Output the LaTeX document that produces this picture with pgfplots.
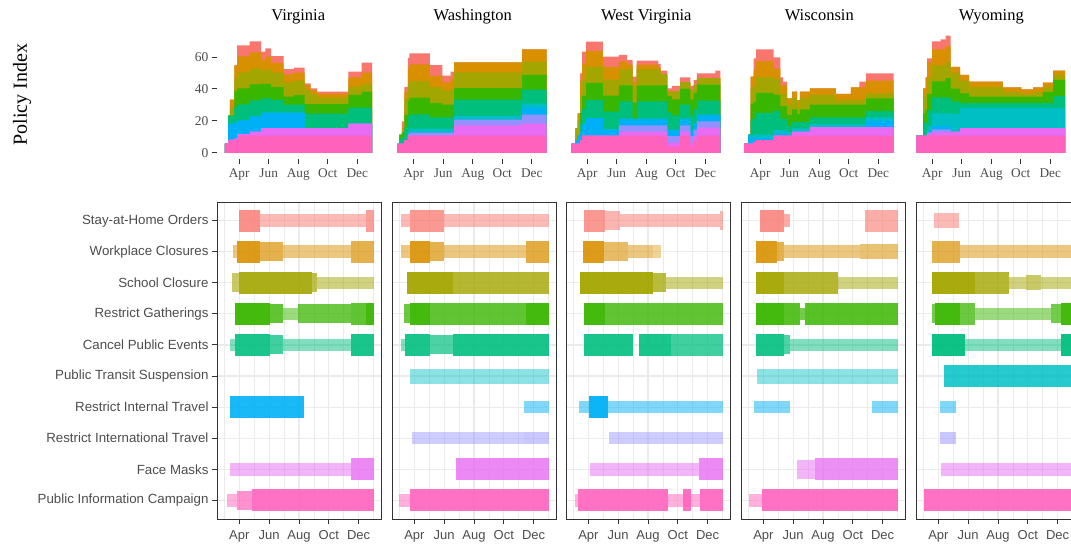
\documentclass[border=0pt]{standalone}
\usepackage{pgfplots}
\pgfplotsset{compat=1.18}
\usepackage{pgfplotstable}
\usepackage{fontspec}
\setmainfont{Liberation Serif}
\newfontfamily\sansf{Liberation Sans}
\definecolor{cSAH}{HTML}{F8766D}
\definecolor{cWC}{HTML}{D89000}
\definecolor{cSC}{HTML}{A3A500}
\definecolor{cRG}{HTML}{39B600}
\definecolor{cCPE}{HTML}{00BF7D}
\definecolor{cTR}{HTML}{00BFC4}
\definecolor{cIT}{HTML}{00B0F6}
\definecolor{cIN}{HTML}{9590FF}
\definecolor{cFM}{HTML}{E76BF3}
\definecolor{cPIC}{HTML}{FF62BC}
\definecolor{gthirty}{HTML}{4D4D4D}
\definecolor{gtwenty}{HTML}{333333}
\definecolor{ggrid}{HTML}{EBEBEB}

% policy index: contribution of each policy (layer), months: 3 = Apr 1
\pgfplotstableread{
t PIC FM IN IT TR CPE RG SC WC SAH
2.04 5.8 0 0 0 0 0 0 0 0 0
2.26 7.9 0 0 10.4 0 5 0 0 0 0
2.38 7.9 0.5 0 10 0 5 0 5 5 0
2.67 8 1 0 10 0 10 10 8 7.8 0
2.87 10.8 1 0 8.6 0 10 10 10 10 6.9
3.71 10.8 2.5 0 9.6 0 10 10 10 10 6.9
4.49 10.8 4.8 0 9.6 0 9 9 8 7 5.1
4.78 10.8 4.8 0 9.6 0 9 9 9 8 5.2
5.16 10.8 4.8 0 9.6 0 8 8 9 6 4.4
6.01 10.8 4.8 0 9.6 0 5 5 9 5 3.3
6.72 10.8 4.8 0 9.6 0 5 6 9 5 3.1
7.44 10.8 4.8 0 0 0 9 6 9 2.7 1.2
7.84 10.8 4.8 0 0 0 9 6 6 2.6 1.2
8.28 10.8 4.8 0 0 0 9 6 4 2.5 1.2
10.40 10.8 7.5 0 0 0 10 8 5 6 3.5
11.29 10.8 7.5 0 0 0 10 10 5 7 6.2
12.00 10.8 7.5 0 0 0 10 10 5 7 6.2
}\tabVA
\pgfplotstableread{
t PIC FM IN IT TR CPE RG SC WC SAH
1.92 5.8 0 0 0 0 0 0 0 0 0
2.03 5.8 0 0 0 0 3 2.7 0 0 0
2.21 5.8 0 0 0 0 4 3 0 3 4
2.37 8 0 0 0 0 8 8 10 4 3.3
2.60 10.8 0 1 0 2 9 10 10 10 6.6
2.71 10.8 0 1.9 0 2.5 9 10.4 10.4 10.4 6.9
4.10 10.8 0 1.9 0 2.5 7 9 10 7 6.8
4.95 10.8 0 1.9 0 2.5 7 8 9 5 4.1
5.51 10.8 0 1.9 0 2.5 7 8 9 7.5 4.1
5.74 10.8 6.5 3.5 0 2.5 10 7.3 9.8 6.3 0
10.34 10.8 7.5 5.7 4.3 2.5 8.8 9.2 8.2 7.8 0
12.00 10.8 7.5 5.7 4.3 2.5 8.8 9.2 8.2 7.8 0
}\tabWA
\pgfplotstableread{
t PIC FM IN IT TR CPE RG SC WC SAH
1.95 5.8 0 0 0 0 0 0 0 0 0
2.20 5.8 0 0 2 0 0 0 7.6 0 0
2.36 5.8 0 0 5 0 0 0 10 4 0
2.52 8 0 0 5 0 6 6 10 9.8 5
2.66 10.8 0 0 7 0 10 8 10 10 7.5
2.93 10.8 0 0 11 0 11.4 10.6 10 10 5.8
4.07 10.8 0 0 4 0 11 10 10 8 6.4
5.14 10.8 2.5 4 4 0 11 10 10 5 4
5.70 10.8 2.5 4 4 0 11 10 10 3 2.8
6.07 10.8 2.5 4 4 0 0 10 10 3 3.4
6.34 10.8 2.5 4 4 0 11 10 10 3 2.4
7.82 10.8 2.5 4 4 0 11 10 10 1 2.3
7.98 10.8 2.5 4 4 0 11 10 7 0 2.2
8.43 4 2.5 4 4 0 11 10 3 0 1.9
8.73 4 2.5 4 4 0 9 10 5 0 3.4
9.30 10.8 2.5 4 4 0 9 10 4 0 3
9.98 4 2.5 4 4 0 9 10 6 0 2.4
10.20 8 2.5 4 4 0 9 10 5 0 3.1
10.43 10.8 5 4 4 0 9 10 4 0 3
11.68 10.8 5 4 4 0 9 10 4 0 4.7
12.02 10.8 5 4 4 0 9 10 4 0 4.7
}\tabWV
\pgfplotstableread{
t PIC FM IN IT TR CPE RG SC WC SAH
1.91 5.8 0 0 0 0 0 0 0 0 0
2.20 5.8 0 0 5.7 0 0 0 0 0 0
2.36 5.8 0 0 3 2 10 10 10 6.9 0
2.55 7 0 0 3 2 10 10 10 10 7.2
2.73 8 0 0 1.5 2 13.5 12.5 10 10 7.3
3.91 10.8 0 0 1.5 2 12 10 10 6.5 7
4.37 10.8 0 0 1.5 2 7 8 8 5 5
4.55 10.8 0 0 1.5 2 7 8 8 5 2.3
4.82 10.8 0 0 0 2 4 7 7 3.4 0
5.16 10.8 2.5 0 0 2 4 8 7 4 0
5.50 10.8 2.5 0 0 2 4 5 5 3.8 0
5.68 10.8 2.5 0 0 2 4 8 7 4 0
6.37 10.8 5.4 0 0 2 4 8 6.2 4 0
8.12 10.8 5.4 0 0 2 4 8 3 3.7 0
9.14 10.8 5.4 0 0 2 4 8 3 7.8 0
9.71 10.8 5.4 0 0 2 4 8 3 8 3.4
10.17 10.8 5.4 0 4 2 4 8 3 8 4.6
12.03 10.8 5.4 0 4 2 4 8 3 8 4.6
}\tabWI
\pgfplotstableread{
t PIC FM IN IT TR CPE RG SC WC SAH
1.93 10.8 0 0 0 0 0 0 0 0 0
2.39 10.8 0 0 0 0 8 6 10 5.6 0
2.55 10.8 0 0 0 0 8 8.5 10 10 0
2.66 10.8 1 1 1 3 10 10 10 10 2.4
3.00 10.8 2 2 2 8 10 10 10 10 5
3.57 10.8 2 2 2 8 10 10 10 10 6.2
3.91 10.8 2 2 2 8 10 12 10 10 6.6
4.25 10.8 2.5 0 0 11 8 8 10 3.6 0
4.89 10.8 4.8 0 0 12.6 3 6 8 3.6 0
5.50 10.8 4.8 0 0 12.6 3 4 6 3.4 0
7.78 10.8 4.8 0 0 12.6 3 4 3 2.8 0
9.03 10.8 4.8 0 0 12.6 3 4 1.8 2.8 0
9.83 10.8 4.8 0 0 12.6 3 4 3 2.8 0
10.50 10.8 4.8 0 0 12.6 3 7 3 2.8 0
11.19 10.8 4.8 0 0 12.6 7.5 10 3 2.8 0
12.00 10.8 4.8 0 0 12.6 7.5 10 3 2.8 0
}\tabWY

\pgfplotsset{
  topax/.style={scale only axis, width=162.5pt, height=128.4pt, anchor=south west,
    xmin=1.5, xmax=12.5, ymin=-3.65, ymax=76.65,
    axis line style={draw=none}, tick pos=left, tick align=outside,
    major tick length=5pt, tick style={gtwenty, line width=1pt},
    xtick={3,5,7,9,11}, xticklabels={Apr,Jun,Aug,Oct,Dec},
    xticklabel style={font=\fontsize{13.3}{16}\selectfont, text=gthirty, anchor=base, yshift=-13.5pt},
    ytick=\empty,
    every axis title/.style={at={(0.5,1)}, anchor=base, yshift=9.7pt, font=\fontsize{16.5}{20}\selectfont},
  },
  botax/.style={scale only axis, width=164pt, height=317pt, anchor=south west,
    xmin=1.5, xmax=12.5, ymin=0.4, ymax=10.6, y dir=reverse,
    axis line style={gtwenty, line width=0.9pt}, tick pos=left, tick align=outside,
    major tick length=5pt, minor tick length=0pt, tick style={gtwenty, line width=1pt},
    xtick={3,5,7,9,11}, xticklabels={Apr,Jun,Aug,Oct,Dec},
    minor xtick={2,4,6,8,10,12}, ytick={1,2,3,4,5,6,7,8,9,10},
    xmajorgrids, xminorgrids, ymajorgrids,
    major grid style={ggrid, line width=1.1pt}, minor grid style={ggrid, line width=0.6pt},
    xticklabel style={font=\sansf\fontsize{13}{15}\selectfont, text=gthirty, anchor=base, yshift=-15pt},
  },
  T/.style={line width=22pt},
  M/.style={line width=19pt},
  Sb/.style={line width=15pt},
  S/.style={line width=12.5pt},
}

% cumulative layers, drawn from the top layer down, each filled to zero
\newcommand{\stacklayers}[1]{%
  \addplot[fill=cSAH, draw=none, const plot] table[x=t, y expr=\thisrow{PIC}+\thisrow{FM}+\thisrow{IN}+\thisrow{IT}+\thisrow{TR}+\thisrow{CPE}+\thisrow{RG}+\thisrow{SC}+\thisrow{WC}+\thisrow{SAH}] {#1} \closedcycle;
  \addplot[fill=cWC, draw=none, const plot] table[x=t, y expr=\thisrow{PIC}+\thisrow{FM}+\thisrow{IN}+\thisrow{IT}+\thisrow{TR}+\thisrow{CPE}+\thisrow{RG}+\thisrow{SC}+\thisrow{WC}] {#1} \closedcycle;
  \addplot[fill=cSC, draw=none, const plot] table[x=t, y expr=\thisrow{PIC}+\thisrow{FM}+\thisrow{IN}+\thisrow{IT}+\thisrow{TR}+\thisrow{CPE}+\thisrow{RG}+\thisrow{SC}] {#1} \closedcycle;
  \addplot[fill=cRG, draw=none, const plot] table[x=t, y expr=\thisrow{PIC}+\thisrow{FM}+\thisrow{IN}+\thisrow{IT}+\thisrow{TR}+\thisrow{CPE}+\thisrow{RG}] {#1} \closedcycle;
  \addplot[fill=cCPE, draw=none, const plot] table[x=t, y expr=\thisrow{PIC}+\thisrow{FM}+\thisrow{IN}+\thisrow{IT}+\thisrow{TR}+\thisrow{CPE}] {#1} \closedcycle;
  \addplot[fill=cTR, draw=none, const plot] table[x=t, y expr=\thisrow{PIC}+\thisrow{FM}+\thisrow{IN}+\thisrow{IT}+\thisrow{TR}] {#1} \closedcycle;
  \addplot[fill=cIT, draw=none, const plot] table[x=t, y expr=\thisrow{PIC}+\thisrow{FM}+\thisrow{IN}+\thisrow{IT}] {#1} \closedcycle;
  \addplot[fill=cIN, draw=none, const plot] table[x=t, y expr=\thisrow{PIC}+\thisrow{FM}+\thisrow{IN}] {#1} \closedcycle;
  \addplot[fill=cFM, draw=none, const plot] table[x=t, y expr=\thisrow{PIC}+\thisrow{FM}] {#1} \closedcycle;
  \addplot[fill=cPIC, draw=none, const plot] table[x=t, y=PIC] {#1} \closedcycle;
}

\begin{document}
\begin{tikzpicture}
\useasboundingbox (0,0) rectangle (1071pt,548pt);
\clip (0,0) rectangle (1071pt,548pt);

% ---------------- top row ----------------
\begin{axis}[topax, at={(217pt,389.2pt)}, title={Virginia},
  ytick={0,20,40,60}, yticklabels={0,20,40,60},
  yticklabel style={font=\fontsize{13.5}{16}\selectfont, text=gthirty, anchor=east},
  ylabel={Policy Index},
  every axis y label/.style={at={(axis description cs:-1.2,0.5)}, rotate=90, anchor=center, font=\fontsize{20}{24}\selectfont}]
\stacklayers{\tabVA}
\end{axis}
\begin{axis}[topax, at={(391.5pt,389.2pt)}, title={Washington}]
\stacklayers{\tabWA}
\end{axis}
\begin{axis}[topax, at={(565pt,389.2pt)}, title={West Virginia}]
\stacklayers{\tabWV}
\end{axis}
\begin{axis}[topax, at={(738pt,389.2pt)}, title={Wisconsin}]
\stacklayers{\tabWI}
\end{axis}
\begin{axis}[topax, at={(910pt,389.2pt)}, title={Wyoming}]
\stacklayers{\tabWY}
\end{axis}

% ---------------- bottom row ----------------
% rows: 1 SAH, 2 WC, 3 SC, 4 RG, 5 CPE, 6 TR, 7 IT, 8 IN, 9 FM, 10 PIC
\begin{axis}[botax, at={(217pt,29pt)},
  yticklabels={Stay-at-Home Orders, Workplace Closures, School Closure, Restrict Gatherings, Cancel Public Events, Public Transit Suspension, Restrict Internal Travel, Restrict International Travel, Face Masks, Public Information Campaign},
  yticklabel style={font=\sansf\fontsize{13.3}{16}\selectfont, text=gthirty, anchor=east}]
\addplot[cSAH, T, draw opacity=0.8] coordinates {(2.96,1) (4.4,1)};
\addplot[cSAH, S, draw opacity=0.5] coordinates {(4.4,1) (11.5,1)};
\addplot[cSAH, T, draw opacity=0.7] coordinates {(11.5,1) (12,1)};
\addplot[cWC, S, draw opacity=0.5] coordinates {(2.6,2) (2.85,2)};
\addplot[cWC, T, draw opacity=0.9] coordinates {(2.85,2) (4.4,2)};
\addplot[cWC, M, draw opacity=0.7] coordinates {(4.4,2) (5.96,2)};
\addplot[cWC, S, draw opacity=0.5] coordinates {(5.96,2) (10.51,2)};
\addplot[cWC, T, draw opacity=0.7] coordinates {(10.51,2) (12,2)};
\addplot[cSC, M, draw opacity=0.6] coordinates {(2.51,3) (2.96,3)};
\addplot[cSC, T, draw opacity=0.9] coordinates {(2.96,3) (7.84,3)};
\addplot[cSC, M, draw opacity=0.7] coordinates {(7.84,3) (8.18,3)};
\addplot[cSC, S, draw opacity=0.5] coordinates {(8.18,3) (12,3)};
\addplot[cRG, T, draw opacity=0.95] coordinates {(2.73,4) (5.07,4)};
\addplot[cRG, M, draw opacity=0.8] coordinates {(5.07,4) (5.96,4)};
\addplot[cRG, S, draw opacity=0.5] coordinates {(5.96,4) (6.96,4)};
\addplot[cRG, M, draw opacity=0.75] coordinates {(6.96,4) (10.51,4)};
\addplot[cRG, T, draw opacity=0.8] coordinates {(10.51,4) (11.5,4)};
\addplot[cRG, T, draw opacity=0.95] coordinates {(11.5,4) (12,4)};
\addplot[cCPE, S, draw opacity=0.5] coordinates {(2.4,5) (2.73,5)};
\addplot[cCPE, T, draw opacity=0.9] coordinates {(2.73,5) (5.07,5)};
\addplot[cCPE, M, draw opacity=0.75] coordinates {(5.07,5) (5.96,5)};
\addplot[cCPE, S, draw opacity=0.5] coordinates {(5.96,5) (10.51,5)};
\addplot[cCPE, T, draw opacity=0.9] coordinates {(10.51,5) (12,5)};
\addplot[cIT, T, draw opacity=0.9] coordinates {(2.4,7) (7.36,7)};
\addplot[cFM, S, draw opacity=0.5] coordinates {(2.4,9) (10.51,9)};
\addplot[cFM, T, draw opacity=0.8] coordinates {(10.51,9) (12,9)};
\addplot[cPIC, S, draw opacity=0.5] coordinates {(2.18,10) (2.87,10)};
\addplot[cPIC, M, draw opacity=0.7] coordinates {(2.87,10) (3.87,10)};
\addplot[cPIC, T, draw opacity=0.9] coordinates {(3.87,10) (12,10)};
\end{axis}

\begin{axis}[botax, at={(392pt,29pt)}, yticklabel={}, ymajorticks=false]
\addplot[cSAH, S, draw opacity=0.5] coordinates {(2.07,1) (2.73,1)};
\addplot[cSAH, T, draw opacity=0.75] coordinates {(2.73,1) (4.96,1)};
\addplot[cSAH, S, draw opacity=0.5] coordinates {(4.96,1) (12,1)};
\addplot[cWC, S, draw opacity=0.5] coordinates {(2.07,2) (2.73,2)};
\addplot[cWC, T, draw opacity=0.9] coordinates {(2.73,2) (4.07,2)};
\addplot[cWC, M, draw opacity=0.7] coordinates {(4.07,2) (4.96,2)};
\addplot[cWC, S, draw opacity=0.5] coordinates {(4.96,2) (10.51,2)};
\addplot[cWC, T, draw opacity=0.75] coordinates {(10.51,2) (12,2)};
\addplot[cSC, T, draw opacity=0.95] coordinates {(2.51,3) (5.58,3)};
\addplot[cSC, T, draw opacity=0.8] coordinates {(5.58,3) (12,3)};
\addplot[cRG, M, draw opacity=0.75] coordinates {(2.33,4) (2.73,4)};
\addplot[cRG, T, draw opacity=0.95] coordinates {(2.73,4) (4.07,4)};
\addplot[cRG, T, draw opacity=0.8] coordinates {(4.07,4) (10.51,4)};
\addplot[cRG, T, draw opacity=0.95] coordinates {(10.51,4) (12,4)};
\addplot[cCPE, S, draw opacity=0.5] coordinates {(2.07,5) (2.4,5)};
\addplot[cCPE, T, draw opacity=0.9] coordinates {(2.4,5) (4.07,5)};
\addplot[cCPE, M, draw opacity=0.7] coordinates {(4.07,5) (5.58,5)};
\addplot[cCPE, T, draw opacity=0.9] coordinates {(5.58,5) (12,5)};
\addplot[cTR, Sb, draw opacity=0.45] coordinates {(2.73,6) (12,6)};
\addplot[cIT, S, draw opacity=0.5] coordinates {(10.36,7) (12,7)};
\addplot[cIN, S, draw opacity=0.45] coordinates {(2.84,8) (10.36,8)};
\addplot[cIN, S, draw opacity=0.5] coordinates {(10.36,8) (12,8)};
\addplot[cFM, T, draw opacity=0.8] coordinates {(5.8,9) (12,9)};
\addplot[cPIC, S, draw opacity=0.5] coordinates {(1.96,10) (2.73,10)};
\addplot[cPIC, T, draw opacity=0.9] coordinates {(2.73,10) (12,10)};
\end{axis}

\begin{axis}[botax, at={(566pt,29pt)}, yticklabel={}, ymajorticks=false]
\addplot[cSAH, T, draw opacity=0.75] coordinates {(2.73,1) (4.09,1)};
\addplot[cSAH, M, draw opacity=0.55] coordinates {(4.09,1) (5.09,1)};
\addplot[cSAH, S, draw opacity=0.5] coordinates {(5.09,1) (11.8,1)};
\addplot[cSAH, M, draw opacity=0.55] coordinates {(11.8,1) (12,1)};
\addplot[cWC, T, draw opacity=0.9] coordinates {(2.62,2) (4.02,2)};
\addplot[cWC, M, draw opacity=0.6] coordinates {(4.02,2) (5.69,2)};
\addplot[cWC, S, draw opacity=0.5] coordinates {(5.69,2) (7.36,2)};
\addplot[cWC, S, draw opacity=0.4] coordinates {(7.36,2) (7.87,2)};
\addplot[cSC, T, draw opacity=0.95] coordinates {(2.42,3) (7.36,3)};
\addplot[cSC, M, draw opacity=0.75] coordinates {(7.36,3) (8.24,3)};
\addplot[cSC, S, draw opacity=0.5] coordinates {(8.24,3) (12,3)};
\addplot[cRG, T, draw opacity=0.95] coordinates {(2.73,4) (4.13,4)};
\addplot[cRG, T, draw opacity=0.8] coordinates {(4.13,4) (12,4)};
\addplot[cCPE, T, draw opacity=0.9] coordinates {(2.73,5) (5.98,5)};
\addplot[cCPE, T, draw opacity=0.9] coordinates {(6.42,5) (8.51,5)};
\addplot[cCPE, T, draw opacity=0.75] coordinates {(8.51,5) (12,5)};
\addplot[cIT, S, draw opacity=0.5] coordinates {(2.4,7) (3.02,7)};
\addplot[cIT, T, draw opacity=0.95] coordinates {(3.02,7) (4.31,7)};
\addplot[cIT, S, draw opacity=0.5] coordinates {(4.31,7) (12,7)};
\addplot[cIN, S, draw opacity=0.45] coordinates {(4.36,8) (12,8)};
\addplot[cFM, S, draw opacity=0.5] coordinates {(3.09,9) (10.42,9)};
\addplot[cFM, T, draw opacity=0.8] coordinates {(10.42,9) (12,9)};
\addplot[cPIC, S, draw opacity=0.5] coordinates {(2.07,10) (2.31,10)};
\addplot[cPIC, T, draw opacity=0.9] coordinates {(2.31,10) (8.36,10)};
\addplot[cPIC, S, draw opacity=0.5] coordinates {(8.36,10) (10.51,10)};
\addplot[cPIC, T, draw opacity=0.9] coordinates {(9.36,10) (9.91,10)};
\addplot[cPIC, T, draw opacity=0.9] coordinates {(10.51,10) (12,10)};
\end{axis}

\begin{axis}[botax, at={(741pt,29pt)}, yticklabel={}, ymajorticks=false]
\addplot[cSAH, T, draw opacity=0.8] coordinates {(2.76,1) (4.36,1)};
\addplot[cSAH, S, draw opacity=0.6] coordinates {(4.36,1) (4.8,1)};
\addplot[cSAH, T, draw opacity=0.6] coordinates {(9.8,1) (12,1)};
\addplot[cWC, T, draw opacity=0.9] coordinates {(2.53,2) (3.91,2)};
\addplot[cWC, M, draw opacity=0.7] coordinates {(3.91,2) (4.36,2)};
\addplot[cWC, S, draw opacity=0.5] coordinates {(4.36,2) (9.47,2)};
\addplot[cWC, Sb, draw opacity=0.55] coordinates {(9.47,2) (12,2)};
\addplot[cSC, T, draw opacity=0.95] coordinates {(2.53,3) (4.36,3)};
\addplot[cSC, T, draw opacity=0.8] coordinates {(4.36,3) (8.02,3)};
\addplot[cSC, S, draw opacity=0.5] coordinates {(8.02,3) (12,3)};
\addplot[cRG, T, draw opacity=0.95] coordinates {(2.53,4) (4.36,4)};
\addplot[cRG, T, draw opacity=0.85] coordinates {(4.36,4) (5.47,4)};
\addplot[cRG, S, draw opacity=0.7] coordinates {(5.47,4) (5.8,4)};
\addplot[cRG, T, draw opacity=0.85] coordinates {(5.8,4) (12,4)};
\addplot[cCPE, T, draw opacity=0.9] coordinates {(2.53,5) (4.36,5)};
\addplot[cCPE, M, draw opacity=0.7] coordinates {(4.36,5) (4.8,5)};
\addplot[cCPE, S, draw opacity=0.5] coordinates {(4.8,5) (12,5)};
\addplot[cTR, Sb, draw opacity=0.45] coordinates {(2.58,6) (12,6)};
\addplot[cIT, S, draw opacity=0.5] coordinates {(2.36,7) (4.8,7)};
\addplot[cIT, S, draw opacity=0.5] coordinates {(10.31,7) (12,7)};
\addplot[cFM, M, draw opacity=0.5] coordinates {(5.24,9) (6.47,9)};
\addplot[cFM, T, draw opacity=0.75] coordinates {(6.47,9) (12,9)};
\addplot[cPIC, S, draw opacity=0.5] coordinates {(2.02,10) (2.91,10)};
\addplot[cPIC, T, draw opacity=0.9] coordinates {(2.91,10) (12,10)};
\end{axis}

\begin{axis}[botax, at={(916pt,29pt)}, yticklabel={}, ymajorticks=false]
\addplot[cSAH, Sb, draw opacity=0.5] coordinates {(2.73,1) (4.36,1)};
\addplot[cWC, T, draw opacity=0.7] coordinates {(2.58,2) (4.42,2)};
\addplot[cWC, S, draw opacity=0.5] coordinates {(4.42,2) (12,2)};
\addplot[cSC, T, draw opacity=0.95] coordinates {(2.58,3) (5.47,3)};
\addplot[cSC, T, draw opacity=0.8] coordinates {(5.47,3) (7.76,3)};
\addplot[cSC, S, draw opacity=0.5] coordinates {(7.76,3) (8.91,3)};
\addplot[cSC, Sb, draw opacity=0.6] coordinates {(8.91,3) (9.91,3)};
\addplot[cSC, S, draw opacity=0.5] coordinates {(9.91,3) (12,3)};
\addplot[cRG, M, draw opacity=0.7] coordinates {(2.58,4) (2.8,4)};
\addplot[cRG, T, draw opacity=0.95] coordinates {(2.8,4) (4.42,4)};
\addplot[cRG, T, draw opacity=0.75] coordinates {(4.42,4) (5.47,4)};
\addplot[cRG, S, draw opacity=0.5] coordinates {(5.47,4) (10.58,4)};
\addplot[cRG, M, draw opacity=0.7] coordinates {(10.58,4) (11.24,4)};
\addplot[cRG, T, draw opacity=0.95] coordinates {(11.24,4) (12,4)};
\addplot[cCPE, T, draw opacity=0.95] coordinates {(2.58,5) (4.8,5)};
\addplot[cCPE, S, draw opacity=0.5] coordinates {(4.8,5) (11.24,5)};
\addplot[cCPE, T, draw opacity=0.95] coordinates {(11.24,5) (12,5)};
\addplot[cTR, T, draw opacity=0.85] coordinates {(3.36,6) (12,6)};
\addplot[cIT, S, draw opacity=0.5] coordinates {(3.09,7) (4.2,7)};
\addplot[cIN, S, draw opacity=0.5] coordinates {(3.09,8) (4.2,8)};
\addplot[cFM, S, draw opacity=0.5] coordinates {(3.2,9) (12,9)};
\addplot[cPIC, T, draw opacity=0.9] coordinates {(2.02,10) (12,10)};
\end{axis}
\end{tikzpicture}
\end{document}
